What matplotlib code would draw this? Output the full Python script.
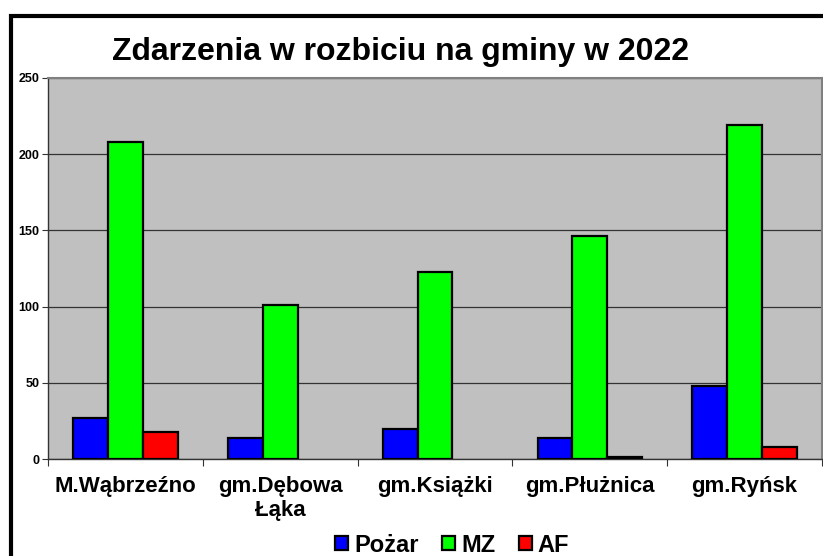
import matplotlib
matplotlib.use("Agg")
import matplotlib.pyplot as plt
import numpy as np
from matplotlib.patches import Rectangle, Patch

plt.rcParams['font.family'] = ['Liberation Sans', 'DejaVu Sans']
plt.rcParams['font.weight'] = 'bold'

gminy = ["M.Wąbrzeźno", "gm.Dębowa\nŁąka", "gm.Książki", "gm.Płużnica", "gm.Ryńsk"]
pozar = [27, 14, 20, 14, 48]
mz = [208, 101, 123, 146, 219]
af = [18, 0, 0, 1, 8]

series = ["Pożar", "MZ", "AF"]
colors = ["#0000FF", "#00FF00", "#FF0000"]

fig = plt.figure(figsize=(8.23, 5.56), dpi=100)
fig.patch.set_facecolor("white")
ax = fig.add_axes([48 / 823, 1 - 459 / 556, 774 / 823, 381 / 556])
ax.set_facecolor("#C0C0C0")

x = np.arange(len(gminy))
w = 0.225
for i, (vals, col) in enumerate(zip([pozar, mz, af], colors)):
    # empty bars get no outline
    lws = [1.6 if v > 0 else 0 for v in vals]
    ax.bar(x + (i - 1) * w, vals, width=w, color=col, edgecolor="black",
           linewidth=lws, zorder=3)

ax.set_ylim(0, 250)
ax.set_xlim(-0.5, len(gminy) - 0.5)
ax.set_yticks([0, 50, 100, 150, 200, 250])
ax.yaxis.grid(True, color="#333333", linewidth=0.9, zorder=1)
ax.set_axisbelow(True)
ax.tick_params(axis="y", labelsize=9, length=4, width=0.8, pad=2, color="#333333")
for lab in ax.get_yticklabels():
    lab.set_fontweight("bold")

# category boundaries as ticks, names in the middle
ax.set_xticks(np.arange(len(gminy) + 1) - 0.5)
ax.set_xticklabels([])
ax.set_xticks(x, minor=True)
ax.set_xticklabels(gminy, minor=True, fontsize=16, fontweight="bold", linespacing=1.2)
ax.tick_params(axis="x", which="major", length=5, width=0.8, color="#333333")
ax.tick_params(axis="x", which="minor", length=0, pad=12)

for s in ["left", "bottom"]:
    ax.spines[s].set_color("#333333")
    ax.spines[s].set_linewidth(1.0)
for s in ["top", "right"]:
    ax.spines[s].set_color("#808080")
    ax.spines[s].set_linewidth(1.5)

fig.text(400 / 823, 1 - 60 / 556, "Zdarzenia w rozbiciu na gminy w 2022",
         ha="center", va="baseline", fontsize=23, fontweight="bold")

handles = [Patch(facecolor=c, edgecolor="black", linewidth=1.6, label=s)
           for s, c in zip(series, colors)]
fig.legend(handles=handles, loc="center", bbox_to_anchor=(452 / 823, 1 - 545 / 556),
           ncol=3, frameon=False, prop={"size": 17, "weight": "bold"},
           handlelength=0.55, handleheight=0.55, handletextpad=0.25,
           columnspacing=1.0, borderpad=0.1)

# thick chart border running off the picture
fig.patches.append(Rectangle((11 / 823, -0.2), 1.2, 1 - 15.5 / 556 + 0.2,
                             transform=fig.transFigure, fill=False,
                             edgecolor="black", linewidth=3.0))

plt.savefig("out.png", dpi=100)
